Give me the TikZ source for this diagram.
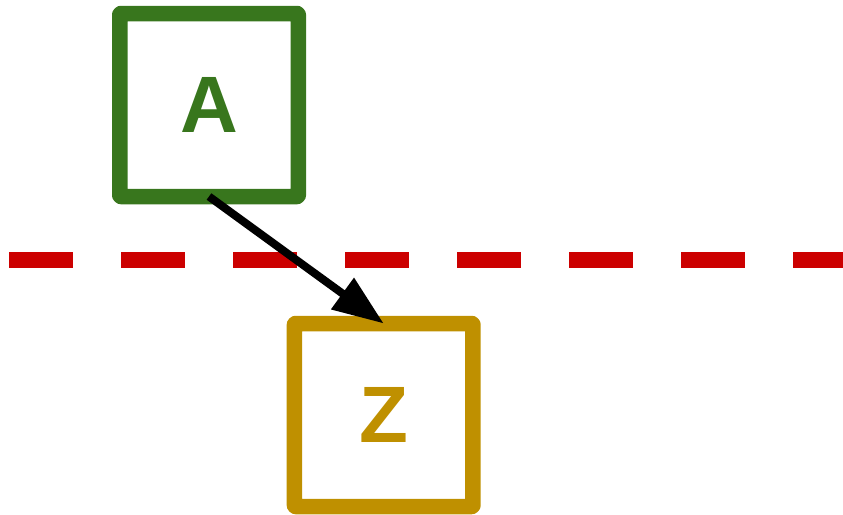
\documentclass[tikz,border=0pt]{standalone}
\usepackage{fontspec}
\setmainfont{Liberation Sans}
\usetikzlibrary{arrows.meta}
\definecolor{boxgreen}{HTML}{38761D}
\definecolor{boxgold}{HTML}{BF9000}
\definecolor{linered}{HTML}{CC0000}
\begin{document}
\begin{tikzpicture}[x=1pt,y=-1pt,
  boxnode/.style={draw, line width=15.5pt, line join=round, rounded corners=1pt,
    inner sep=0pt, outer sep=0pt, minimum width=178.5pt, minimum height=183pt,
    font=\fontsize{80}{96}\selectfont\bfseries},
  divider/.style={draw=linered, line width=16pt, dash pattern=on 64pt off 48pt},
  link/.style={draw=black, line width=8pt, -{Triangle[length=51pt,width=37pt]}}]
\useasboundingbox (0,0) rectangle (843,514);
\coordinate (L) at (9,260);
\coordinate (R) at (870,260);
\draw[divider] (L) -- (R);
\node[boxnode, draw=boxgreen, text=boxgreen] (A) at (209,105) {A};
\node[boxnode, draw=boxgold, text=boxgold] (Z) at (383.7,415) {Z};
\draw[link] (A.south) -- (Z.north);
\end{tikzpicture}
\end{document}
